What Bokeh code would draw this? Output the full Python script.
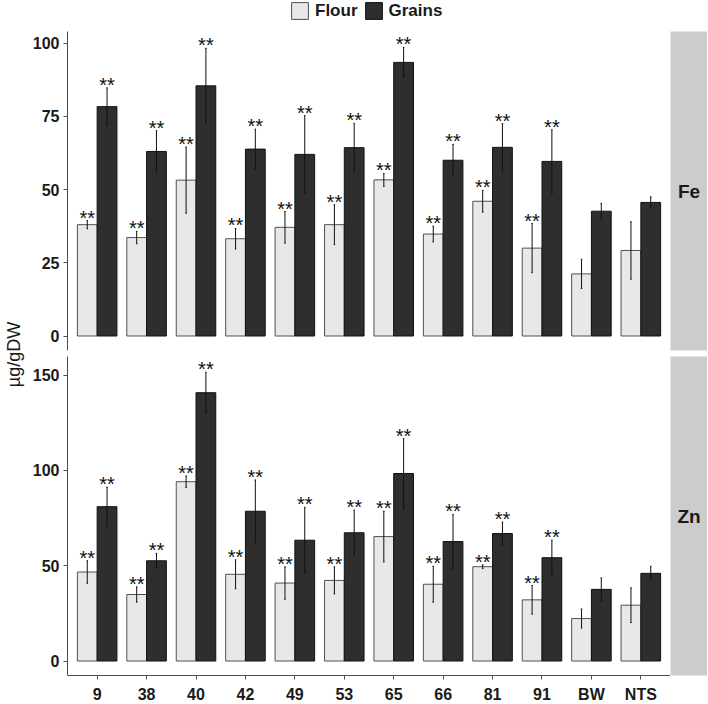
import numpy as np
from bokeh.plotting import figure
from bokeh.models import ColumnDataSource, Range1d, FixedTicker, Legend, LegendItem
from bokeh.layouts import row, column
from bokeh.embed import file_html
from bokeh.resources import INLINE
from bokeh.core.properties import value

categories = ["9", "38", "40", "42", "49", "53", "65", "66", "81", "91", "BW", "NTS"]
series_names = ["Flour", "Grains"]
facets = ["Fe", "Zn"]

fe_flour = [38.0, 33.6, 53.2, 33.2, 37.1, 38.0, 53.3, 34.8, 46.0, 30.0, 21.2, 29.2]
fe_flour_sd = [1.4, 2.1, 11.3, 3.5, 5.4, 6.8, 2.2, 2.7, 3.7, 8.4, 5.0, 9.8]
fe_grains = [78.3, 63.0, 85.4, 63.8, 62.0, 64.3, 93.4, 60.0, 64.4, 59.6, 42.6, 45.6]
fe_grains_sd = [6.4, 7.1, 12.8, 6.8, 13.2, 8.3, 5.1, 5.4, 8.1, 10.8, 2.7, 1.9]

zn_flour = [46.7, 34.9, 94.1, 45.5, 40.9, 42.3, 65.3, 40.3, 49.5, 32.1, 22.3, 29.3]
zn_flour_sd = [5.9, 4.0, 3.0, 7.6, 8.5, 7.1, 13.3, 9.4, 1.0, 7.5, 5.0, 9.1]
zn_grains = [81.0, 52.6, 140.8, 78.6, 63.4, 67.3, 98.4, 62.7, 66.9, 54.2, 37.6, 46.0]
zn_grains_sd = [10.2, 3.9, 10.7, 16.4, 17.2, 11.9, 18.3, 14.2, 6.0, 9.2, 6.0, 3.7]

signif = ["**", "**", "**", "**", "**", "**", "**", "**", "**", "**", "", ""]

fe_ticks = [0, 25, 50, 75, 100]
zn_ticks = [0, 50, 100, 150]
y_label = "µg/gDW"

FONT = "Liberation Sans"
FLOUR_FILL = "#e8e8e8"
FLOUR_LINE = "#505050"
GRAIN_FILL = "#2e2e2e"
GRAIN_LINE = "#111111"
AXIS_COL = "#4d4d4d"
TXT = "#1a1a1a"
STRIP = "#cccccc"

LAB_W = 26
LEFT = 41
FRAME_W = 603
STRIP_W = 37
TOP1 = 31
FRAME_H = 319
GAP = 3
BOTTOM2 = 28


def build_source(flour, flour_sd, grain, grain_sd):
    pos = np.arange(1, len(categories) + 1)
    f = np.array(flour); fs = np.array(flour_sd)
    g = np.array(grain); gs = np.array(grain_sd)
    return ColumnDataSource(dict(
        xf=pos - 0.2, xg=pos + 0.2,
        f=f, flo=f - fs, fhi=f + fs,
        g=g, glo=g - gs, ghi=g + gs,
        xf0=pos - 0.2 - 0.015, xf1=pos - 0.2 + 0.015,
        xg0=pos + 0.2 - 0.015, xg1=pos + 0.2 + 0.015,
        sig=signif,
    ))


def style_axis(ax, standoff):
    ax.axis_line_color = AXIS_COL
    ax.axis_line_width = 1
    ax.major_tick_line_color = AXIS_COL
    ax.major_tick_in = 0
    ax.major_tick_out = 4
    ax.minor_tick_line_color = None
    ax.major_label_standoff = standoff
    ax.major_label_text_font = FONT
    ax.major_label_text_font_size = "16px"
    ax.major_label_text_font_style = "bold"
    ax.major_label_text_color = TXT


def bare(fig):
    fig.grid.visible = False
    fig.outline_line_color = None
    fig.border_fill_color = "white"
    return fig


def add_bars(p, src):
    rf = p.vbar(x="xf", top="f", bottom=0, width=0.4, source=src,
                fill_color=FLOUR_FILL, line_color=FLOUR_LINE, line_width=1)
    rg = p.vbar(x="xg", top="g", bottom=0, width=0.4, source=src,
                fill_color=GRAIN_FILL, line_color=GRAIN_LINE, line_width=1)
    return rf, rg


def make_panel(src, yr, ticks, top_b, bottom_b, show_x):
    p = figure(frame_width=FRAME_W, frame_height=FRAME_H,
               x_range=Range1d(0.4, len(categories) + 0.6), y_range=Range1d(*yr),
               output_backend="svg", toolbar_location=None,
               x_axis_location="below" if show_x else None,
               min_border_left=LEFT, min_border_right=0,
               min_border_top=top_b, min_border_bottom=bottom_b)
    bare(p)
    p.background_fill_color = "white"
    style_axis(p.yaxis[0], 4)
    p.yaxis[0].ticker = FixedTicker(ticks=ticks)
    if show_x:
        ax = p.xaxis[0]
        style_axis(ax, 6)
        ax.ticker = FixedTicker(ticks=list(range(1, len(categories) + 1)))
        ax.major_label_overrides = {i + 1: c for i, c in enumerate(categories)}
    add_bars(p, src)
    for xk, lo, hi, x0, x1 in [("xf", "flo", "fhi", "xf0", "xf1"), ("xg", "glo", "ghi", "xg0", "xg1")]:
        p.segment(x0=xk, y0=lo, x1=xk, y1=hi, source=src, line_color="#111111", line_width=1)
        p.segment(x0=x0, y0=lo, x1=x1, y1=lo, source=src, line_color="#111111", line_width=1)
        p.segment(x0=x0, y0=hi, x1=x1, y1=hi, source=src, line_color="#111111", line_width=1)
        p.text(x=xk, y=hi, text="sig", source=src, text_align="center",
               text_baseline="alphabetic", y_offset=-3,
               text_font=value(FONT), text_font_size="20px", text_color="#111111")
    return p


def make_strip(label, top_b, bottom_b):
    s = figure(frame_width=STRIP_W, frame_height=FRAME_H,
               x_range=Range1d(0, 1), y_range=Range1d(0, 1),
               output_backend="svg", toolbar_location=None,
               x_axis_location=None, y_axis_location=None,
               min_border_left=0, min_border_right=0,
               min_border_top=top_b, min_border_bottom=bottom_b)
    bare(s)
    s.background_fill_color = STRIP
    s.text(x=[0.5], y=[0.5], text=[label], text_align="center", text_baseline="middle",
           text_font=value(FONT), text_font_size="19px", text_font_style="bold",
           text_color=TXT)
    return s


fe_src = build_source(fe_flour, fe_flour_sd, fe_grains, fe_grains_sd)
zn_src = build_source(zn_flour, zn_flour_sd, zn_grains, zn_grains_sd)

p1 = make_panel(fe_src, (-4.95, 103.95), fe_ticks, 0, GAP, False)
p2 = make_panel(zn_src, (-7.6, 159.8), zn_ticks, GAP, BOTTOM2, True)

# legend strip on top: keys come from hidden copies of the bar renderers
lf = figure(frame_width=FRAME_W, frame_height=TOP1,
            x_range=Range1d(0.4, len(categories) + 0.6), y_range=Range1d(0, 1),
            output_backend="svg", toolbar_location=None,
            x_axis_location=None, y_axis_location=None,
            min_border_left=LEFT, min_border_right=0, min_border_top=0, min_border_bottom=0)
bare(lf)
lf.background_fill_color = "white"
kf, kg = add_bars(lf, fe_src)
kf.visible = False
kg.visible = False
legend = Legend(items=[LegendItem(label=series_names[0], renderers=[kf], index=0),
                       LegendItem(label=series_names[1], renderers=[kg], index=0)],
                orientation="horizontal", location=(222, 10),
                glyph_width=21, glyph_height=21, label_standoff=5, spacing=5,
                padding=0, margin=0, border_line_color=None, background_fill_alpha=0,
                inactive_fill_alpha=0,
                label_text_font=FONT, label_text_font_size="17px",
                label_text_font_style="bold", label_text_color=TXT,
                label_height=21)
lf.add_layout(legend, "center")

s1 = make_strip(facets[0], TOP1, GAP)
s2 = make_strip(facets[1], GAP, BOTTOM2)

total_h = TOP1 + FRAME_H + GAP + GAP + FRAME_H + BOTTOM2
lab = figure(frame_width=LAB_W, frame_height=total_h,
             x_range=Range1d(0, LAB_W), y_range=Range1d(0, total_h),
             output_backend="svg", toolbar_location=None,
             x_axis_location=None, y_axis_location=None,
             min_border_left=0, min_border_right=0, min_border_top=0, min_border_bottom=0)
bare(lab)
lab.background_fill_color = "white"
lab.text(x=[13], y=[total_h - 354], text=[y_label], angle=np.pi / 2,
         text_align="center", text_baseline="middle",
         text_font=value(FONT), text_font_size="18px", text_color=TXT)

layout = row(lab, column(lf, p1, p2), column(s1, s2))

open("out.html", "w").write(file_html(layout, INLINE))
